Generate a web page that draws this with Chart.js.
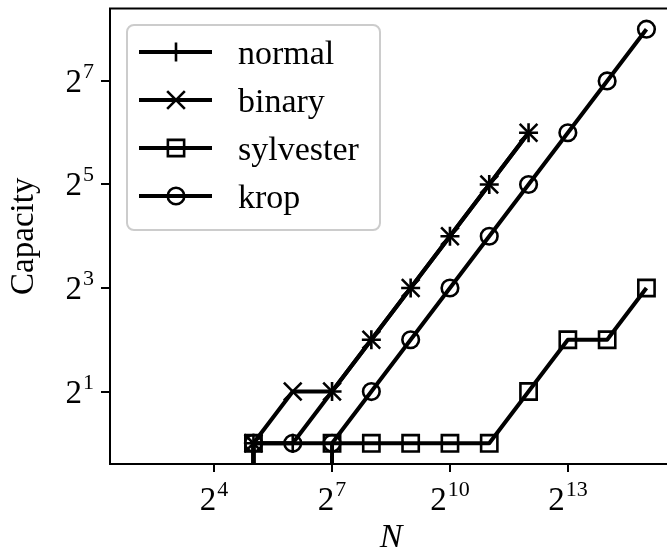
<!DOCTYPE html>
<html>
<head>
<meta charset="utf-8">
<script src="https://cdn.jsdelivr.net/npm/chart.js@4/dist/chart.umd.min.js"></script>
<style>
  html, body { margin: 0; padding: 0; background: #fff; overflow: hidden; }
  #wrap { width: 667px; height: 552px; overflow: hidden; position: relative; }
  canvas { display: block; }
</style>
</head>
<body>
<div id="wrap"><canvas id="chart" width="680" height="552"></canvas></div>
<script>
// Code length N (powers of two) and the capacity reached by each construction.
const N = [4, 8, 16, 32, 64, 128, 256, 512, 1024, 2048, 4096, 8192, 16384, 32768];
const normal    = [0, 0, 0, 1, 1, 2, 4, 8, 16, 32, 64, null, null, null];
const binary    = [0, 0, 0, 1, 2, 2, 4, 8, 16, 32, 64, null, null, null];
const sylvester = [0, 0, 0, 1, 0, 1, 1, 1, 1, 1, 2, 4, 4, 8];
const krop      = [0, 0, 0, 1, 1, 1, 2, 4, 8, 16, 32, 64, 128, 256];

const seriesNames = ['normal', 'binary', 'sylvester', 'krop'];

// Axis ticks: powers of two, labelled as base + exponent.
const xTickExponents = [4, 7, 10, 13];
const yTickExponents = [1, 3, 5, 7];

const FONT = '"Liberation Serif", "Times New Roman", serif';

// A log axis cannot show a capacity of 0: push it far below the visible range,
// so the segment leading to it drops straight down and is clipped at the axis.
const FLOOR = Math.pow(2, -1000);
const toPoints = (vals) => vals.map((v, i) => ({ x: N[i], y: v === null ? null : (v <= 0 ? FLOOR : v) }));

const markers = {
  normal:    { pointStyle: 'cross',    radius: 9.5 },
  binary:    { pointStyle: 'crossRot', radius: 12.5 },
  sylvester: { pointStyle: 'rect',     radius: 11.5 },
  krop:      { pointStyle: 'circle',   radius: 8.3 }
};

const seriesValues = [normal, binary, sylvester, krop];

const datasets = seriesNames.map((name, i) => ({
  label: name,
  data: toPoints(seriesValues[i]),
  order: seriesNames.length - i,
  borderColor: '#000',
  borderWidth: 4,
  borderJoinStyle: 'round',
  borderCapStyle: 'butt',
  tension: 0,
  spanGaps: false,
  clip: 0,
  pointStyle: markers[name].pointStyle,
  pointRadius: markers[name].radius,
  pointHoverRadius: markers[name].radius,
  pointBorderWidth: 2.6,
  pointBorderColor: '#000',
  pointBackgroundColor: 'rgba(0,0,0,0)'
}));

function drawPow(ctx, exp, x, y, align) {
  // draws "2" with a raised exponent; (x, y) = anchor / main baseline
  const mainFont = '33px ' + FONT;
  const supFont = '22px ' + FONT;
  ctx.font = mainFont;
  const wb = ctx.measureText('2').width;
  ctx.font = supFont;
  const we = ctx.measureText(String(exp)).width;
  const gap = 1;
  const total = wb + gap + we;
  const left = align === 'center' ? x - total / 2 : x - total;
  ctx.textAlign = 'left';
  ctx.textBaseline = 'alphabetic';
  ctx.font = mainFont;
  ctx.fillText('2', left, y);
  ctx.font = supFont;
  ctx.fillText(String(exp), left + wb + gap, y - 14);
}

const axesPlugin = {
  id: 'axesFrame',
  afterDatasetsDraw(chart) {
    const { ctx, chartArea: a, scales } = chart;
    ctx.save();
    ctx.strokeStyle = '#000';
    ctx.fillStyle = '#000';
    ctx.lineWidth = 2;
    ctx.strokeRect(a.left, a.top, a.right - a.left, a.bottom - a.top);

    // x ticks and labels
    xTickExponents.forEach(e => {
      const px = Math.round(scales.x.getPixelForValue(Math.pow(2, e)));
      ctx.beginPath();
      ctx.moveTo(px, a.bottom);
      ctx.lineTo(px, a.bottom + 8);
      ctx.stroke();
      drawPow(ctx, e, px, a.bottom + 46, 'center');
    });

    // y ticks and labels
    yTickExponents.forEach(e => {
      const py = Math.round(scales.y.getPixelForValue(Math.pow(2, e)));
      ctx.beginPath();
      ctx.moveTo(a.left, py);
      ctx.lineTo(a.left - 9, py);
      ctx.stroke();
      drawPow(ctx, e, a.left - 16, py + 11, 'right');
    });

    // axis titles
    ctx.font = 'italic 34px ' + FONT;
    ctx.textAlign = 'center';
    ctx.textBaseline = 'alphabetic';
    ctx.fillText('N', (a.left + a.right) / 2, 547);

    ctx.save();
    ctx.translate(33, (a.top + a.bottom) / 2);
    ctx.rotate(-Math.PI / 2);
    ctx.font = '33px ' + FONT;
    ctx.fillText('Capacity', 0, 0);
    ctx.restore();
    ctx.restore();
  }
};

const legendPlugin = {
  id: 'lineLegend',
  afterDraw(chart) {
    const { ctx } = chart;
    const box = { x: 127, y: 25, w: 253, h: 205, r: 7 };
    ctx.save();
    ctx.beginPath();
    ctx.roundRect(box.x, box.y, box.w, box.h, box.r);
    ctx.fillStyle = 'rgba(255,255,255,0.85)';
    ctx.fill();
    ctx.strokeStyle = '#cccccc';
    ctx.lineWidth = 2;
    ctx.stroke();

    chart.data.datasets.forEach((ds, i) => {
      const cy = 52 + 48 * i;
      ctx.strokeStyle = '#000';
      ctx.lineWidth = 4;
      ctx.beginPath();
      ctx.moveTo(139, cy);
      ctx.lineTo(212, cy);
      ctx.stroke();

      ctx.lineWidth = ds.pointBorderWidth;
      ctx.fillStyle = 'rgba(0,0,0,0)';
      Chart.helpers.drawPoint(ctx, {
        pointStyle: ds.pointStyle,
        radius: ds.pointRadius,
        borderWidth: ds.pointBorderWidth,
        rotation: 0
      }, 176, cy);

      ctx.fillStyle = '#000';
      ctx.font = '34px ' + FONT;
      ctx.textAlign = 'left';
      ctx.textBaseline = 'alphabetic';
      ctx.fillText(ds.label, 238, cy + 12);
    });
    ctx.restore();
  }
};

new Chart(document.getElementById('chart'), {
  type: 'line',
  data: { datasets },
  options: {
    responsive: false,
    animation: false,
    events: [],
    layout: { autoPadding: false, padding: { left: 110, top: 8.5, right: 8, bottom: 88 } },
    plugins: { legend: { display: false }, tooltip: { enabled: false } },
    scales: {
      x: { type: 'logarithmic', min: Math.pow(2, 1.35), max: Math.pow(2, 15.65), display: false },
      y: { type: 'logarithmic', min: Math.pow(2, -0.4), max: Math.pow(2, 8.4), display: false }
    }
  },
  plugins: [axesPlugin, legendPlugin]
});
</script>
</body>
</html>
